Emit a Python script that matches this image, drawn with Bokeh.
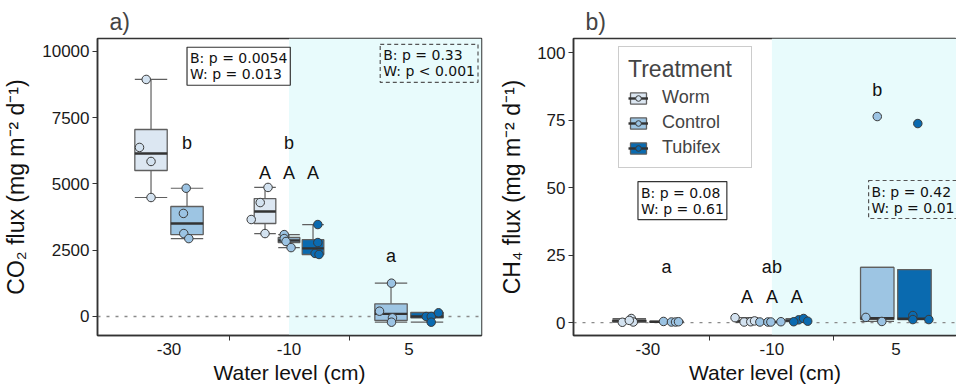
import numpy as np
from bokeh.plotting import figure
from bokeh.layouts import row
from bokeh.models import (ColumnDataSource, FixedTicker, Label, Legend, LegendItem,
                          BoxAnnotation, Span)
from bokeh.embed import file_html
from bokeh.resources import INLINE
from bokeh.core.properties import value

# ---------------- data ----------------
groups = ["-30", "-10", "5"]
treatments = ["Worm", "Control", "Tubifex"]
shade_from = "-10"

# CO2 boxes
co2_box_group = ["-30", "-30", "-10", "-10", "-10", "5", "5"]
co2_box_treat = ["Worm", "Control", "Worm", "Control", "Tubifex", "Control", "Tubifex"]
co2_low = [4490, 2940, 3130, 2600, 2340, -215, -215]
co2_q1 = [5510, 3090, 3510, 2790, 2340, -150, -50]
co2_med = [6150, 3510, 3960, 2870, 2570, 100, 0]
co2_q3 = [7057, 4150, 4450, 2980, 2900, 480, 150]
co2_high = [8945, 4840, 4870, 3090, 3470, 1257, 150]

# CO2 points
co2_pt_group = ["-30"] * 8 + ["-10"] * 12 + ["5"] * 8
co2_pt_treat = (["Worm"] * 4 + ["Control"] * 4 + ["Worm"] * 4 + ["Control"] * 4 +
                ["Tubifex"] * 4 + ["Control"] * 4 + ["Tubifex"] * 4)
co2_pt_val = [8945, 6380, 5850, 4490,
              4840, 3890, 3130, 2940,
              4870, 4300, 3660, 3130,
              3090, 2940, 2830, 2600,
              3470, 2790, 2380, 2340,
              1257, 200, -50, -215,
              0, 0, -215, 140]
co2_pt_jit = [-0.04, -0.096, 0.0, 0.0,
              -0.007, -0.03, -0.027, 0.015,
              0.025, -0.04, -0.115, 0.0,
              -0.04, -0.04, -0.025, 0.017,
              0.04, 0.04, 0.017, 0.05,
              0.004, -0.096, 0.012, 0.004,
              -0.007, 0.035, 0.035, 0.096]

# CO2 letters
co2_let_group = ["-30", "-10", "-10", "-10", "-10", "5"]
co2_let_treat = ["Control", "Control", "Worm", "Control", "Tubifex", "Control"]
co2_let_y = [6530, 6530, 5400, 5400, 5400, 2300]
co2_let_text = ["b", "b", "A", "A", "A", "a"]

# CH4 boxes
ch4_box_group = ["-30", "-30", "-10", "-10", "-10", "5", "5"]
ch4_box_treat = ["Worm", "Control", "Worm", "Control", "Tubifex", "Control", "Tubifex"]
ch4_low = [0.1, 0.1, 0.2, 0.1, 0.3, 0.4, 1.1]
ch4_q1 = [0.3, 0.15, 0.3, 0.15, 0.45, 1.2, 1.2]
ch4_med = [0.7, 0.25, 0.5, 0.2, 0.7, 1.6, 1.4]
ch4_q3 = [0.9, 0.4, 0.8, 0.25, 1.0, 20.4, 19.6]
ch4_high = [1.5, 0.5, 1.8, 0.3, 1.5, 20.4, 19.6]

# CH4 points
ch4_pt_group = ["-30"] * 8 + ["-10"] * 12 + ["5"] * 7
ch4_pt_treat = (["Worm"] * 4 + ["Control"] * 4 + ["Worm"] * 4 + ["Control"] * 4 +
                ["Tubifex"] * 4 + ["Control"] * 3 + ["Tubifex"] * 4)
ch4_pt_val = [0.1, 1.5, 0.2, 0.8,
              0.4, 0.2, 0.2, 0.3,
              1.8, 0.2, 0.3, 0.6,
              0.2, 0.2, 0.2, 0.3,
              1.0, 1.5, 0.5, 0.3,
              76.3, 1.9, 0.4,
              73.7, 2.6, 1.1, 1.1]
ch4_pt_jit = [-0.056, 0.016, 0.032, 0.0,
              -0.024, 0.04, 0.073, 0.097,
              -0.097, -0.024, 0.03, 0.06,
              -0.097, -0.032, -0.008, 0.073,
              0.016, 0.056, 0.089, -0.024,
              0.0, -0.092, 0.037,
              0.027, -0.013, -0.013, 0.116]

# CH4 letters
ch4_let_group = ["-30", "-10", "-10", "-10", "-10", "5"]
ch4_let_treat = ["Control", "Control", "Worm", "Control", "Tubifex", "Control"]
ch4_let_y = [20.7, 20.7, 9.3, 9.3, 9.3, 86]
ch4_let_text = ["a", "ab", "A", "A", "A", "b"]

co2_ticks = [0, 2500, 5000, 7500, 10000]
ch4_ticks = [0, 25, 50, 75, 100]

co2_pbox = ["B: p = 0.0054\nW: p = 0.013", "B: p = 0.33\nW: p < 0.001"]
ch4_pbox = ["B: p = 0.08\nW: p = 0.61", "B: p = 0.42\nW: p = 0.01"]

# ---------------- styling ----------------
FILL = {"Worm": "#DCE7F2", "Control": "#9DC5E3", "Tubifex": "#0A6AAF"}
PTFILL = {"Worm": "#D3E2F0", "Control": "#9BC3E3", "Tubifex": "#0A6AB0"}
BOXLINE = "#5f5f5f"
SANS = "Liberation Sans"
PFONT = "DejaVu Sans"
SHADE = "#E8FBFC"


def positions(box_groups, box_treats):
    """Dodge centres and widths for each box (ggplot-like dodge of width 0.6)."""
    xs, ws = {}, {}
    for g in groups:
        present = [t for t in treatments
                   if any(bg == g and bt == t for bg, bt in zip(box_groups, box_treats))]
        n = len(present)
        slot = 0.6 / n
        for k, t in enumerate(present):
            xs[(g, t)] = groups.index(g) + 1 - 0.3 + slot * (k + 0.5)
            ws[(g, t)] = slot * 0.9
    return xs, ws


def make_panel(title, ylabel, yr, yticks, bg, bt, low, q1, med, q3, high,
               pg, pt, pv, pj, lg, lt, ly, ltxt, xr, width, mbl, mbr, ylab_standoff):
    p = figure(width=width, height=391, x_range=xr, y_range=yr,
               output_backend="svg", toolbar_location=None,
               min_border_left=mbl, min_border_right=mbr,
               min_border_top=38, min_border_bottom=56)
    p.title.text = title
    p.title.text_font = SANS
    p.title.text_font_size = "23px"
    p.title.text_font_style = "normal"
    p.title.offset = 12
    p.title.standoff = 7
    p.grid.visible = False
    p.outline_line_color = "#333333"
    p.outline_line_width = 1.5
    p.background_fill_color = "white"

    xs, ws = positions(bg, bt)

    p.add_layout(BoxAnnotation(left=groups.index(shade_from) + 1, fill_color=SHADE,
                               fill_alpha=1.0, line_color=None, level="underlay"))
    p.add_layout(Span(location=0, dimension="width", line_color="#8a8a8a",
                      line_dash="3 6", line_width=1.3, level="underlay"))

    rend = {}
    for t in treatments:
        idx = [i for i in range(len(bg)) if bt[i] == t]
        if not idx:
            continue
        x = np.array([xs[(bg[i], t)] for i in idx])
        w = np.array([ws[(bg[i], t)] for i in idx])
        src = ColumnDataSource(dict(
            x=x, w=w, x0=x - w / 2, x1=x + w / 2,
            low=[low[i] for i in idx], q1=[q1[i] for i in idx],
            med=[med[i] for i in idx], q3=[q3[i] for i in idx],
            high=[high[i] for i in idx]))
        p.segment("x", "q3", "x", "high", source=src, line_color=BOXLINE, line_width=1.2)
        p.segment("x", "q1", "x", "low", source=src, line_color=BOXLINE, line_width=1.2)
        p.segment("x0", "high", "x1", "high", source=src, line_color=BOXLINE, line_width=1.2)
        p.segment("x0", "low", "x1", "low", source=src, line_color=BOXLINE, line_width=1.2)
        r_box = p.vbar(x="x", width="w", top="q3", bottom="q1", source=src,
                       fill_color=FILL[t], line_color=BOXLINE, line_width=1.3)
        r_med = p.segment("x0", "med", "x1", "med", source=src, line_color="#333333",
                          line_width=2.4)
        pidx = [i for i in range(len(pg)) if pt[i] == t]
        psrc = ColumnDataSource(dict(
            x=[xs[(pg[i], t)] + pj[i] for i in pidx],
            y=[pv[i] for i in pidx]))
        r_pt = p.scatter("x", "y", source=psrc, size=8.5, fill_color=PTFILL[t],
                         line_color="#3a3a3a", line_width=1)
        rend[t] = [r_box, r_med, r_pt]

    lsrc = ColumnDataSource(dict(
        x=[xs[(g, t)] for g, t in zip(lg, lt)], y=ly, text=ltxt))
    p.text("x", "y", text="text", source=lsrc, text_font=value(SANS),
           text_font_size="18px", text_align="center", text_baseline="middle",
           text_color="#111111")

    p.xaxis.ticker = FixedTicker(ticks=[1, 2, 3], minor_ticks=[1.5, 2.5])
    p.xaxis.major_label_overrides = {i + 1: g for i, g in enumerate(groups)}
    p.yaxis.ticker = FixedTicker(ticks=yticks)
    for ax in (p.xaxis[0], p.yaxis[0]):
        ax.axis_line_color = "#333333"
        ax.axis_line_width = 1.5
        ax.major_label_text_font = SANS
        ax.major_label_text_font_size = "17px"
        ax.major_label_text_color = "#1a1a1a"
        ax.axis_label_text_font = SANS
        ax.axis_label_text_font_style = "normal"
        ax.axis_label_text_color = "#111111"
        ax.major_tick_line_color = "#333333"
        ax.minor_tick_line_color = "#333333"
        ax.major_tick_in = 0
        ax.major_tick_out = 5
        ax.minor_tick_in = 0
    p.xaxis.major_tick_line_color = None
    p.xaxis.minor_tick_out = 5
    p.xaxis.major_label_standoff = 2
    p.xaxis.axis_label = "Water level (cm)"
    p.xaxis.axis_label_text_font_size = "21px"
    p.xaxis.axis_label_standoff = 3
    p.yaxis.minor_tick_line_color = None
    p.yaxis.major_label_standoff = 3
    p.yaxis.axis_label = ylabel
    p.yaxis.axis_label_text_font_size = "23px"
    p.yaxis.axis_label_standoff = ylab_standoff
    return p, rend


pa, _ = make_panel("a)", "CO₂ flux (mg m⁻² d⁻¹)", (-717, 10490), co2_ticks,
                   co2_box_group, co2_box_treat, co2_low, co2_q1, co2_med, co2_q3, co2_high,
                   co2_pt_group, co2_pt_treat, co2_pt_val, co2_pt_jit,
                   co2_let_group, co2_let_treat, co2_let_y, co2_let_text,
                   (0.404, 3.604), 483, 97, 2, 10)

pb, rend_b = make_panel("b)", "CH₄ flux (mg m⁻² d⁻¹)", (-4.8, 105.2), ch4_ticks,
                        ch4_box_group, ch4_box_treat, ch4_low, ch4_q1, ch4_med, ch4_q3, ch4_high,
                        ch4_pt_group, ch4_pt_treat, ch4_pt_val, ch4_pt_jit,
                        ch4_let_group, ch4_let_treat, ch4_let_y, ch4_let_text,
                        (0.4, 3.489), 473, 90, 0, 9)


def pbox(p, x, y, text, dashed):
    lab = Label(x=x, y=y, text=text, anchor="top_left", text_font=PFONT,
                text_font_size="14px", text_color="#111111", text_line_height=1.0,
                border_line_color="#555555" if dashed else "#333333",
                border_line_width=1.2, border_line_dash="4 3" if dashed else "solid",
                background_fill_color="white", background_fill_alpha=1.0 if not dashed else 0.0,
                padding=3)
    p.add_layout(lab)


pbox(pa, 1.15, 10160, co2_pbox[0], False)
pbox(pa, 2.76, 10270, co2_pbox[1], True)
pbox(pb, 0.92, 52.2, ch4_pbox[0], False)
pbox(pb, 2.78, 52.6, ch4_pbox[1], True)

legend = Legend(items=[LegendItem(label=t, renderers=rend_b[t]) for t in treatments],
                location=(45, 167), title="Treatment")
legend.title_text_font = SANS
legend.title_text_font_size = "23px"
legend.title_text_font_style = "normal"
legend.title_standoff = 4
legend.label_text_font = SANS
legend.label_text_font_size = "18px"
legend.label_width = 80
legend.label_height = 20
legend.glyph_width = 20
legend.glyph_height = 14
legend.label_standoff = 14
legend.spacing = 4
legend.padding = 9
legend.margin = 0
legend.border_line_color = "#9a9a9a"
legend.border_line_width = 1.5
legend.background_fill_alpha = 1.0
pb.add_layout(legend, "center")

layout = row(pa, pb)
open("out.html", "w").write(file_html(layout, INLINE))
